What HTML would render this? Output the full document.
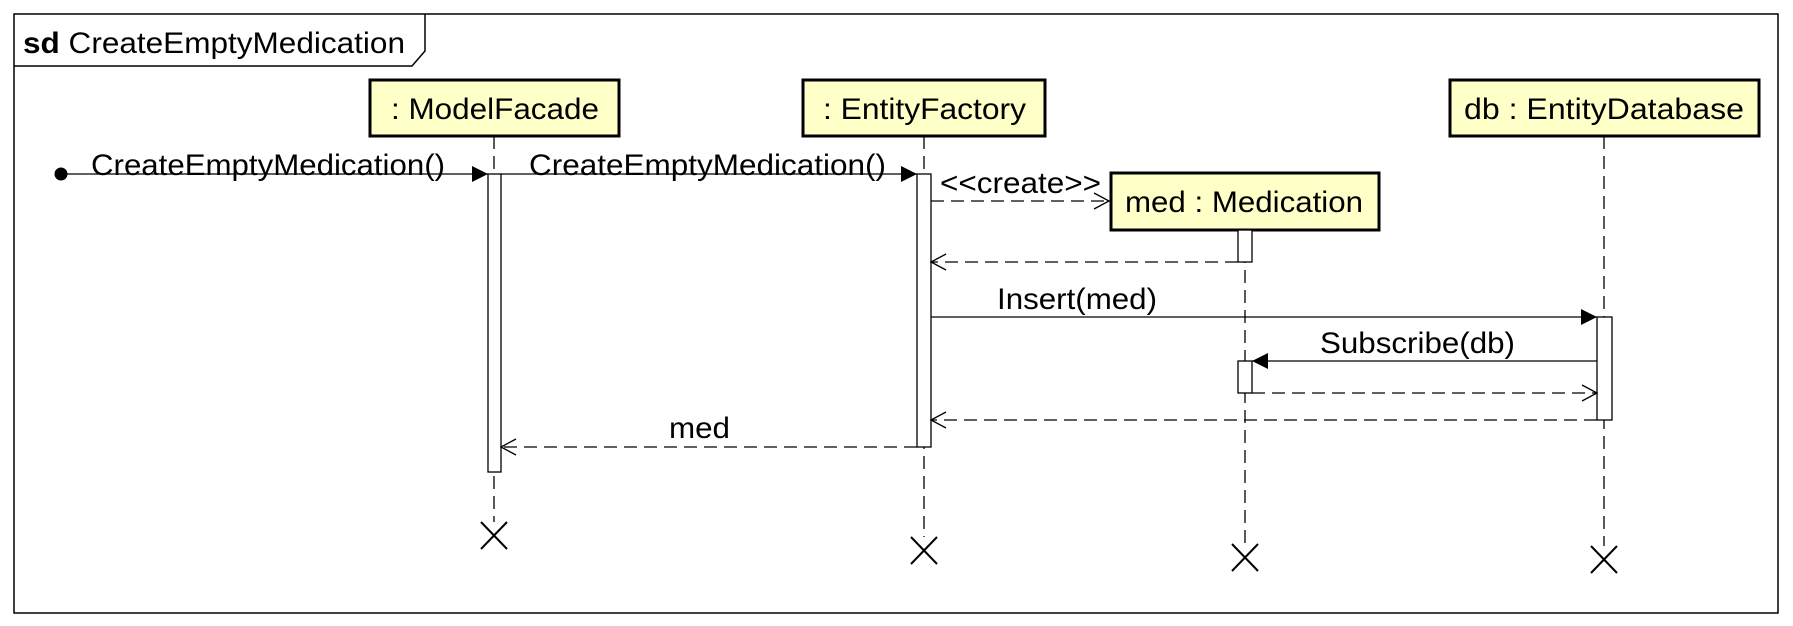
<!DOCTYPE html>
<html><head><style>html,body{margin:0;padding:0;background:#fff}svg{display:block}</style></head>
<body>
<svg width="1793" height="626" viewBox="0 0 1793 626" xmlns="http://www.w3.org/2000/svg" font-family="Liberation Sans, Arial, sans-serif" font-size="30">
<rect x="0" y="0" width="1793" height="626" fill="#fff"/>
<rect x="14" y="14" width="1764" height="599" fill="none" stroke="#000" stroke-width="1.5"/>
<path d="M14 66 L412 66 L425 51 L425 14" fill="none" stroke="#000" stroke-width="1.5"/>
<text x="23" y="53" textLength="382" lengthAdjust="spacingAndGlyphs"><tspan font-weight="bold">sd</tspan> CreateEmptyMedication</text>

<g stroke="#000" stroke-width="1.3" stroke-dasharray="13,7" fill="none">
<line x1="494" y1="136" x2="494" y2="522"/>
<line x1="924" y1="136" x2="924" y2="537"/>
<line x1="1245" y1="230" x2="1245" y2="544"/>
<line x1="1604" y1="136" x2="1604" y2="546"/>
</g>

<g stroke="#000" stroke-width="3" fill="#ffffc8">
<rect x="370" y="80" width="249" height="56"/>
<rect x="803" y="80" width="242" height="56"/>
<rect x="1450" y="80" width="309" height="56"/>
<rect x="1111" y="173" width="268" height="57"/>
</g>
<text x="391" y="119" textLength="208" lengthAdjust="spacingAndGlyphs">: ModelFacade</text>
<text x="823" y="119" textLength="203" lengthAdjust="spacingAndGlyphs">: EntityFactory</text>
<text x="1464" y="119" textLength="280" lengthAdjust="spacingAndGlyphs">db : EntityDatabase</text>
<text x="1125" y="212" textLength="238" lengthAdjust="spacingAndGlyphs">med : Medication</text>

<g stroke="#000" stroke-width="1.3" fill="#fff">
<rect x="488" y="174" width="13" height="298"/>
<rect x="917" y="174" width="14" height="273"/>
<rect x="1238" y="230" width="14" height="32"/>
<rect x="1597" y="317" width="15" height="103"/>
<rect x="1238" y="361" width="14" height="32"/>
</g>

<g stroke="#000" stroke-width="1.3" fill="none">
<line x1="61" y1="174" x2="488" y2="174"/>
<line x1="501" y1="174" x2="917" y2="174"/>
<line x1="931" y1="317" x2="1597" y2="317"/>
<line x1="1597" y1="361" x2="1252" y2="361"/>
</g>
<circle cx="61" cy="174" r="6.5" fill="#000"/>
<g fill="#000">
<polygon points="488,174 472,166 472,182"/>
<polygon points="917,174 901,166 901,182"/>
<polygon points="1597,317 1581,309 1581,325"/>
<polygon points="1252,361 1268,353 1268,369"/>
</g>
<g stroke="#000" stroke-width="1.3" stroke-dasharray="13,7" fill="none">
<line x1="931" y1="201" x2="1109" y2="201"/>
<line x1="1238" y1="262" x2="931" y2="262"/>
<line x1="1252" y1="393" x2="1597" y2="393"/>
<line x1="1597" y1="420" x2="931" y2="420"/>
<line x1="917" y1="447" x2="501" y2="447"/>
</g>
<g stroke="#000" stroke-width="1.3" fill="none">
<polyline points="1094,193 1109,201 1094,209"/>
<polyline points="946,254 931,262 946,270"/>
<polyline points="1582,385 1597,393 1582,401"/>
<polyline points="946,412 931,420 946,428"/>
<polyline points="516,439 501,447 516,455"/>
</g>

<text x="91" y="175" textLength="354" lengthAdjust="spacingAndGlyphs">CreateEmptyMedication()</text>
<text x="529" y="175" textLength="357" lengthAdjust="spacingAndGlyphs">CreateEmptyMedication()</text>
<text x="940" y="193" textLength="161" lengthAdjust="spacingAndGlyphs">&lt;&lt;create&gt;&gt;</text>
<text x="997" y="309" textLength="160" lengthAdjust="spacingAndGlyphs">Insert(med)</text>
<text x="1320" y="353" textLength="195" lengthAdjust="spacingAndGlyphs">Subscribe(db)</text>
<text x="669" y="438" textLength="61" lengthAdjust="spacingAndGlyphs">med</text>

<g stroke="#000" stroke-width="2">
<path d="M481 522 L507 549 M507 522 L481 549"/>
<path d="M911 537 L937 564 M937 537 L911 564"/>
<path d="M1232 544 L1258 571 M1258 544 L1232 571"/>
<path d="M1591 546 L1617 573 M1617 546 L1591 573"/>
</g>
</svg>
</body></html>
